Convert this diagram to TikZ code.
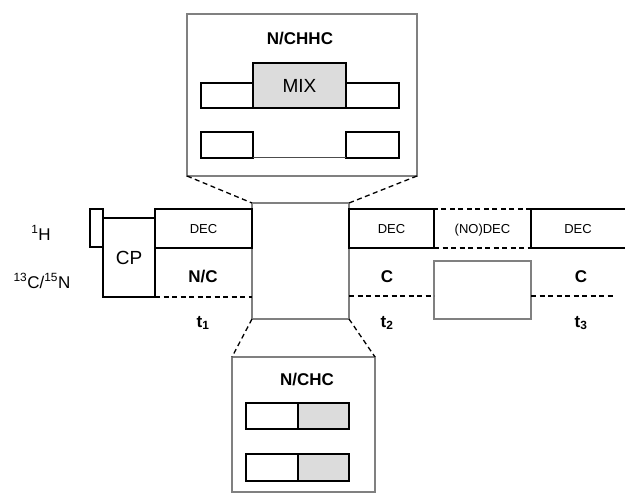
\documentclass[tikz,border=0pt]{standalone}
\usepackage{fontspec}
\setmainfont{Liberation Sans}
\definecolor{frame}{HTML}{808080}
\definecolor{lfill}{HTML}{DCDCDC}
\begin{document}
\begin{tikzpicture}[x=1pt,y=-1pt,
  box/.style={draw=black,line width=1.3pt,rectangle,inner sep=0pt,outer sep=0pt,minimum width=#1},
  gbox/.style={draw=frame,line width=2.6pt,rectangle,inner sep=0pt,outer sep=0pt,fill=white},
  dsh/.style={line width=1.3pt,dash pattern=on 5pt off 3.5pt},
  lab/.style={inner sep=0pt,font=\fontsize{17}{17}\selectfont},
  blab/.style={inner sep=0pt,font=\fontsize{17}{17}\selectfont\bfseries},
  slab/.style={inner sep=0pt,font=\fontsize{13}{13}\selectfont,text height=9.5pt,text depth=0pt}]
\useasboundingbox (0,0) rectangle (625,494);
% zoom top
\node[gbox,minimum width=230pt,minimum height=162pt] (top) at (302,95) {};
\node[blab] (ttl) at (300,39) {N/CHHC};
\node[box=93pt,minimum height=45pt,fill=lfill,font=\fontsize{19}{19}\selectfont] (mix) at (299.5,85.5) {MIX};
\node[box=52pt,minimum height=25pt] (tl) at (227,95.5) {};
\node[box=53pt,minimum height=25pt] (tr) at (372.5,95.5) {};
\node[box=52pt,minimum height=26pt] (bl) at (227,145) {};
\node[box=53pt,minimum height=26pt] (br) at (372.5,145) {};
\draw[line width=1pt,black!70] (bl.south east) -- (br.south west);
% middle
\node[gbox,minimum width=97pt,minimum height=116pt] (mid) at (300.5,261) {};
% bottom zoom
\node[gbox,minimum width=143pt,minimum height=135pt] (bot) at (303.5,424.5) {};
\node[blab] (bttl) at (307,380) {N/CHC};
\node[box=52pt,minimum height=26pt] (w1) at (272,416) {};
\node[box=51pt,minimum height=26pt,fill=lfill] (g1) at (323.5,416) {};
\node[box=52pt,minimum height=27pt] (w2) at (272,467.5) {};
\node[box=51pt,minimum height=27pt,fill=lfill] (g2) at (323.5,467.5) {};
% zoom connectors
\draw[dsh] (top.south west) -- (mid.north west);
\draw[dsh] (top.south east) -- (mid.north east);
\draw[dsh] (mid.south west) -- (bot.north west);
\draw[dsh] (mid.south east) -- (bot.north east);
% pulse sequence
\node[lab] (h) at (41,233) {\textsuperscript{1}H};
\node[lab] (cn) at (42,281) {\textsuperscript{13}C/\textsuperscript{15}N};
\node[box=13pt,minimum height=38pt] (pre) at (96.5,228) {};
\node[box=52pt,minimum height=79pt,font=\fontsize{19}{19}\selectfont] (cp) at (129,257.5) {CP};
\node[box=97pt,minimum height=39pt,slab] (dec1) at (203.5,228.5) {DEC};
\node[box=85pt,minimum height=39pt,slab] (dec2) at (391.5,228.5) {DEC};
\node[box=97pt,minimum height=39pt,slab,dash pattern=on 5pt off 3.5pt] (nodec) at (482.5,228.5) {(NO)DEC};
\node[slab] (dec3) at (578,228.5) {DEC};
\coordinate (d3a) at (625,209);
\coordinate (d3b) at (625,248);
\draw[line width=1.3pt] (d3a) -- (nodec.north east) -- (nodec.south east) -- (d3b);
\node[gbox,line width=2pt,minimum width=97pt,minimum height=58pt] (gb) at (482.5,290) {};
\coordinate (endl) at (615,296);
\draw[dsh] (cp.south east) -- (cp.south east -| mid.west);
\draw[dsh] (mid.east |- endl) -- (gb.west |- endl);
\draw[dsh] (gb.east |- endl) -- (endl);
\node[blab] (nc) at (203,277) {N/C};
\node[blab] (c2) at (387,277) {C};
\node[blab] (c3) at (581,277) {C};
\node[blab] (t1) at (203,323) {t\textsubscript{1}};
\node[blab] (t2) at (387,323) {t\textsubscript{2}};
\node[blab] (t3) at (581,323) {t\textsubscript{3}};
\end{tikzpicture}
\end{document}
